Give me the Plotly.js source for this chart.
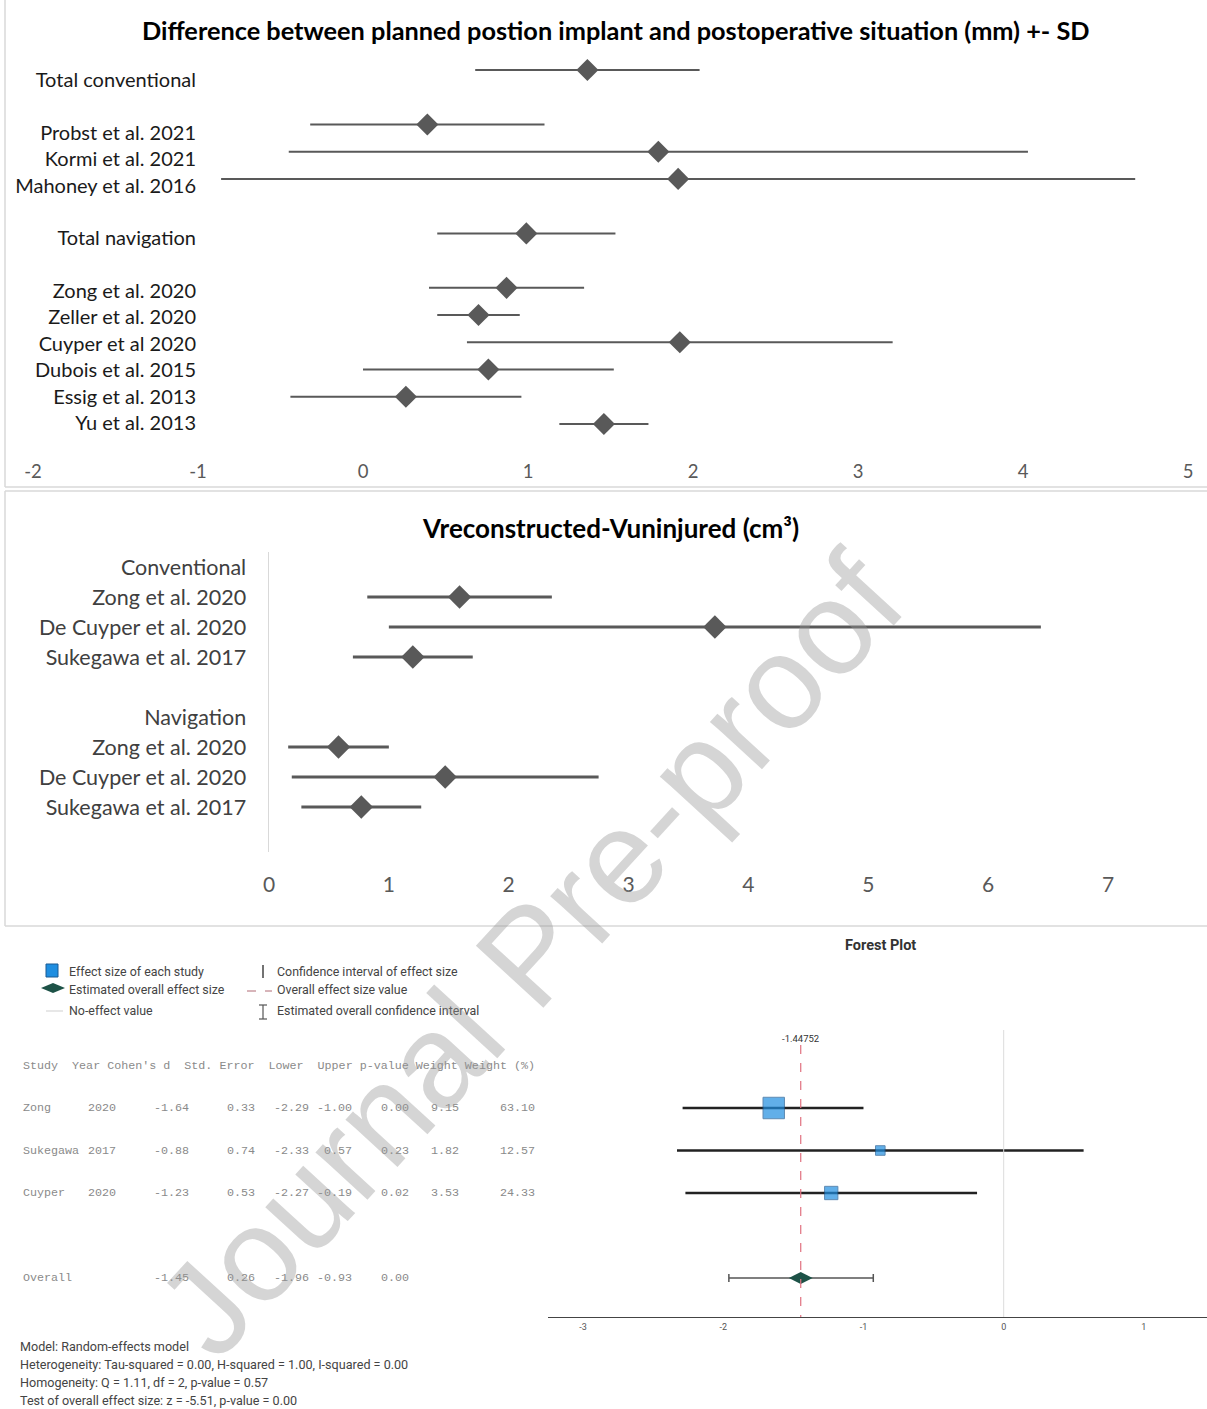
<!DOCTYPE html>
<html>
<head>
<meta charset="utf-8">
<script src="https://cdn.plot.ly/plotly-3.0.1.min.js"></script>
<style>
  html, body { margin: 0; padding: 0; background: #fff; }
  #wrap { position: relative; width: 1207px; height: 1409px; overflow: hidden; }
  #chart { width: 1207px; height: 1409px; }
  #wm { position: absolute; left: 530px; top: 955px;
        transform: translate(-50%, -50%) rotate(-47.5deg);
        font-family: 'Liberation Sans', Arial, sans-serif; font-size: 133px;
        color: rgba(150,150,150,0.4); white-space: nowrap; pointer-events: none; line-height: 1; }
</style>
</head>
<body>
<div id="wrap">
  <div id="chart"></div>
  <div id="wm">Journal Pre-proof</div>
</div>
<script>
// ---------------- DATA ----------------
// Panel 1: difference between planned position and postoperative situation (mm), mean +- SD
const topTitle = 'Difference between planned postion implant and postoperative situation (mm) +- SD';
const topLabels = ['Total conventional', '', 'Probst et al. 2021', 'Kormi et al. 2021', 'Mahoney et al. 2016', '',
                   'Total navigation', '', 'Zong et al. 2020', 'Zeller et al. 2020', 'Cuyper et al 2020',
                   'Dubois et al. 2015', 'Essig et al. 2013', 'Yu et al. 2013'];
const topMeans = [1.36, null, 0.39, 1.79, 1.91, null, 0.99, null, 0.87, 0.70, 1.92, 0.76, 0.26, 1.46];
const topSD    = [0.68, null, 0.71, 2.24, 2.77, null, 0.54, null, 0.47, 0.25, 1.29, 0.76, 0.70, 0.27];
const topTicks = [-2, -1, 0, 1, 2, 3, 4, 5];

// Panel 2: Vreconstructed - Vuninjured (cm3)
const midTitle = 'Vreconstructed-Vuninjured (cm³)';
const midLabels = ['Conventional', 'Zong et al. 2020', 'De Cuyper et al. 2020', 'Sukegawa et al. 2017', '',
                   'Navigation', 'Zong et al. 2020', 'De Cuyper et al. 2020', 'Sukegawa et al. 2017', ''];
const midMeans = [null, 1.59, 3.72, 1.20, null, null, 0.58, 1.47, 0.77, null];
const midSD    = [null, 0.77, 2.72, 0.50, null, null, 0.42, 1.28, 0.50, null];
const midTicks = [0, 1, 2, 3, 4, 5, 6, 7];

// Panel 3: meta-analysis forest plot
const fpStudies   = ['Zong', 'Sukegawa', 'Cuyper'];
const fpYears     = [2020, 2017, 2020];
const fpCohenD    = [-1.64, -0.88, -1.23];
const fpStdErr    = [0.33, 0.74, 0.53];
const fpLower     = [-2.29, -2.33, -2.27];
const fpUpper     = [-1.00, 0.57, -0.19];
const fpPValue    = [0.00, 0.23, 0.02];
const fpWeight    = [9.15, 1.82, 3.53];
const fpWeightPct = [63.10, 12.57, 24.33];
const overallD     = -1.44752;
const overallSE    = 0.26;
const overallLower = -1.96;
const overallUpper = -0.93;
const overallP     = 0.00;
const fpTicks = [-3, -2, -1, 0, 1];
const tableHeader = "Study  Year Cohen's d  Std. Error  Lower  Upper p-value Weight Weight (%)";
const legendItems = ['Effect size of each study', 'Estimated overall effect size', 'No-effect value',
                     'Confidence interval of effect size', 'Overall effect size value', 'Estimated overall confidence interval'];
const notes = ['Model: Random-effects model',
               'Heterogeneity: Tau-squared = 0.00, H-squared = 1.00, I-squared = 0.00',
               'Homogeneity: Q = 1.11, df = 2, p-value = 0.57',
               'Test of overall effect size: z = -5.51, p-value = 0.00'];

// ---------------- LAYOUT HELPERS ----------------
const W = 1207, H = 1409;
const px = x => x / W;
const py = y => 1 - y / H;
function rowRange(topPx, botPx, row0Px, pitch) {
  return [(botPx - row0Px) / pitch, (topPx - row0Px) / pitch];
}
const idx = arr => arr.map((_, i) => i);

const EXCEL = 'Lato, "Open Sans", sans-serif';
const SANS = 'Roboto, "Liberation Sans", sans-serif';
const MONO = '"Liberation Mono", "DejaVu Sans Mono", monospace';
const grey = '#595959';

// ---------------- TRACES ----------------
const traces = [];
traces.push({
  type: 'scatter', mode: 'markers', xaxis: 'x', yaxis: 'y',
  x: topMeans, y: idx(topMeans),
  marker: { symbol: 'diamond', size: 17, color: grey },
  error_x: { type: 'data', array: topSD, visible: true, color: grey, thickness: 2, width: 0 },
  hoverinfo: 'skip', showlegend: false
});
traces.push({
  type: 'scatter', mode: 'markers', xaxis: 'x', yaxis: 'y3',
  x: topMeans, y: idx(topMeans), marker: { opacity: 0 }, hoverinfo: 'skip', showlegend: false
});
traces.push({
  type: 'scatter', mode: 'markers', xaxis: 'x2', yaxis: 'y2',
  x: midMeans, y: idx(midMeans),
  marker: { symbol: 'diamond', size: 18, color: grey },
  error_x: { type: 'data', array: midSD, visible: true, color: grey, thickness: 3, width: 0 },
  hoverinfo: 'skip', showlegend: false
});
traces.push({
  type: 'scatter', mode: 'markers', xaxis: 'x4', yaxis: 'y4',
  x: fpCohenD, y: idx(fpCohenD),
  marker: { symbol: 'square', size: fpWeightPct.map(w => 2.7 * Math.sqrt(w)),
            color: '#1f8ee0', line: { color: '#1b5a93', width: 1 } },
  error_x: { type: 'data', symmetric: false,
             array: fpUpper.map((u, i) => u - fpCohenD[i]),
             arrayminus: fpLower.map((l, i) => fpCohenD[i] - l),
             visible: true, color: '#222', thickness: 2.5, width: 0 },
  hoverinfo: 'skip', showlegend: false
});
traces.push({
  type: 'scatter', mode: 'markers', xaxis: 'x4', yaxis: 'y4',
  x: [overallD], y: [fpStudies.length + 1],
  marker: { symbol: 'diamond-wide', size: 17, color: '#1d5247' },
  error_x: { type: 'data', symmetric: false, array: [overallUpper - overallD], arrayminus: [overallD - overallLower],
             visible: true, color: '#555', thickness: 1.5, width: 4 },
  hoverinfo: 'skip', showlegend: false
});

// ---------------- AXES ----------------
const topDom = [py(440), py(56)];
const layout = {
  width: W, height: H, margin: { l: 0, r: 0, t: 0, b: 0 },
  paper_bgcolor: 'rgba(0,0,0,0)', plot_bgcolor: 'rgba(0,0,0,0)',
  showlegend: false,
  xaxis: { domain: [px(33), px(1188)], range: [-2, 5], anchor: 'y', tickmode: 'array', tickvals: topTicks,
           ticktext: topTicks.map(String),
           showgrid: false, zeroline: false, showline: false, ticks: '', ticklabelstandoff: 18,
           tickfont: { family: EXCEL, size: 18.5, color: grey } },
  yaxis: { domain: topDom, range: rowRange(56, 440, 70, 27.23), anchor: 'x',
           showgrid: false, zeroline: false, showline: false, showticklabels: false, ticks: '' },
  yaxis3: { overlaying: 'y', anchor: 'free', position: px(196), side: 'left',
            range: rowRange(56, 440, 80, 26.38), tickmode: 'array', tickvals: idx(topLabels), ticktext: topLabels,
            showgrid: false, zeroline: false, showline: false, ticks: '', ticklabelstandoff: 0,
            tickfont: { family: EXCEL, size: 20, color: '#1a1a1a' } },
  xaxis2: { domain: [px(269), px(1108)], range: [0, 7], anchor: 'y2', tickmode: 'array', tickvals: midTicks,
            ticktext: midTicks.map(String),
            showgrid: false, zeroline: false, showline: false, ticks: '', ticklabelstandoff: 18,
            tickfont: { family: EXCEL, size: 21, color: grey } },
  yaxis2: { domain: [py(852), py(552)], range: [midLabels.length - 0.5, -0.5], anchor: 'x2',
            tickmode: 'array', tickvals: idx(midLabels), ticktext: midLabels,
            showgrid: false, zeroline: false, showline: true, linecolor: '#d9d9d9', linewidth: 1.5,
            ticks: '', ticklabelstandoff: 17, tickfont: { family: EXCEL, size: 21.5, color: '#404040' } },
  xaxis4: { domain: [px(548), 1], range: [-3.25, 1.45], anchor: 'y4', tickmode: 'array', tickvals: fpTicks,
            ticktext: fpTicks.map(String),
            showgrid: false, zeroline: false, showline: true, linecolor: '#444', linewidth: 1, ticks: '',
            ticklabelstandoff: 1, tickfont: { family: SANS, size: 9, color: '#555' } },
  yaxis4: { domain: [py(1317), py(1030)], range: rowRange(1030, 1317, 1108, 42.5), anchor: 'x4',
            showgrid: false, zeroline: false, showline: false, showticklabels: false, ticks: '' },
  shapes: [], annotations: []
};

const S = layout.shapes, A = layout.annotations;
const border = { color: '#d9d9d9', width: 1.5 };
S.push({ type: 'line', xref: 'paper', yref: 'paper', x0: px(5), x1: px(5), y0: py(0), y1: py(487), line: border });
S.push({ type: 'line', xref: 'paper', yref: 'paper', x0: px(5), x1: 1, y0: py(487), y1: py(487), line: border });
S.push({ type: 'line', xref: 'paper', yref: 'paper', x0: px(5), x1: 1, y0: py(491), y1: py(491), line: border });
S.push({ type: 'line', xref: 'paper', yref: 'paper', x0: px(5), x1: px(5), y0: py(491), y1: py(926), line: border });
S.push({ type: 'line', xref: 'paper', yref: 'paper', x0: px(5), x1: 1, y0: py(926), y1: py(926), line: border });

S.push({ type: 'line', xref: 'x4', yref: 'paper', x0: 0, x1: 0, y0: py(1030), y1: py(1317), line: { color: '#dcdcdc', width: 1 } });
S.push({ type: 'line', xref: 'x4', yref: 'paper', x0: overallD, x1: overallD, y0: py(1045), y1: py(1317),
         line: { color: '#e0707f', width: 1.2, dash: 'dash' } });

function ann(o) { A.push(Object.assign({ showarrow: false, yanchor: 'middle', xanchor: 'center' }, o)); }

// Titles
ann({ xref: 'paper', yref: 'paper', x: px(616), y: py(30), text: '<b>' + topTitle + '</b>',
      font: { family: EXCEL, size: 25.3, color: '#000' } });
ann({ xref: 'paper', yref: 'paper', x: px(610), y: py(528), text: '<b>' + midTitle + '</b>',
      font: { family: EXCEL, size: 26, color: '#000' } });
ann({ xref: 'paper', yref: 'paper', x: px(880), y: py(945), text: '<b>Forest Plot</b>',
      font: { family: SANS, size: 14.5, color: '#333' } });
ann({ xref: 'x4', yref: 'paper', x: overallD, y: py(1038), text: String(overallD),
      font: { family: SANS, size: 9.5, color: '#333' } });

// Legend of forest plot
const legPos = [[67, 971], [67, 989], [67, 1011], [275, 971], [275, 989], [275, 1011]];
legendItems.forEach((t, i) => {
  ann({ xref: 'paper', yref: 'paper', x: px(legPos[i][0]), y: py(legPos[i][1]), xanchor: 'left',
        text: t, font: { family: SANS, size: 12.4, color: '#444' } });
});
S.push({ type: 'rect', xref: 'paper', yref: 'paper', x0: px(46), x1: px(58), y0: py(977), y1: py(964),
         fillcolor: '#1f8ee0', line: { color: '#1b5a93', width: 1 } });
S.push({ type: 'path', xref: 'paper', yref: 'paper',
         path: `M${px(41)},${py(988)} L${px(53)},${py(983)} L${px(65)},${py(988)} L${px(53)},${py(993)} Z`,
         fillcolor: '#1d5247', line: { width: 0 } });
S.push({ type: 'line', xref: 'paper', yref: 'paper', x0: px(46), x1: px(63), y0: py(1011), y1: py(1011), line: { color: '#cfcfcf', width: 1 } });
S.push({ type: 'line', xref: 'paper', yref: 'paper', x0: px(263), x1: px(263), y0: py(965), y1: py(978), line: { color: '#444', width: 1.5 } });
S.push({ type: 'line', xref: 'paper', yref: 'paper', x0: px(247), x1: px(272), y0: py(991), y1: py(991), line: { color: '#b06a74', width: 1, dash: 'dash' } });
S.push({ type: 'line', xref: 'paper', yref: 'paper', x0: px(263), x1: px(263), y0: py(1005), y1: py(1019), line: { color: '#555', width: 1.2 } });
S.push({ type: 'line', xref: 'paper', yref: 'paper', x0: px(259), x1: px(267), y0: py(1005), y1: py(1005), line: { color: '#555', width: 1.2 } });
S.push({ type: 'line', xref: 'paper', yref: 'paper', x0: px(259), x1: px(267), y0: py(1019), y1: py(1019), line: { color: '#555', width: 1.2 } });

// Table (rows tied to the forest plot rows)
const tf = { family: MONO, size: 11.7, color: '#8a8a8a' };
ann({ xref: 'paper', yref: 'y4', x: px(21), y: -1, xanchor: 'left', text: tableHeader, font: tf });
const colRight = [191, 257, 311, 354, 411, 461, 537];
function addRow(row, name, year, vals) {
  ann({ xref: 'paper', yref: 'y4', x: px(21), y: row, xanchor: 'left', text: name, font: tf });
  if (year !== null) ann({ xref: 'paper', yref: 'y4', x: px(86), y: row, xanchor: 'left', text: String(year), font: tf });
  vals.forEach((v, j) => {
    if (v === null) return;
    ann({ xref: 'paper', yref: 'y4', x: px(colRight[j]), y: row, xanchor: 'right', text: v.toFixed(2), font: tf });
  });
}
fpStudies.forEach((s, i) => addRow(i, s, fpYears[i],
  [fpCohenD[i], fpStdErr[i], fpLower[i], fpUpper[i], fpPValue[i], fpWeight[i], fpWeightPct[i]]));
addRow(fpStudies.length + 1, 'Overall', null, [overallD, overallSE, overallLower, overallUpper, overallP, null, null]);

// Notes
const noteY = [1346, 1364, 1382, 1400];
notes.forEach((t, i) => {
  ann({ xref: 'paper', yref: 'paper', x: px(18), y: py(noteY[i]), xanchor: 'left', text: t,
        font: { family: SANS, size: 12.6, color: '#444' } });
});

Plotly.newPlot('chart', traces, layout, { staticPlot: true, displayModeBar: false });
</script>
</body>
</html>
